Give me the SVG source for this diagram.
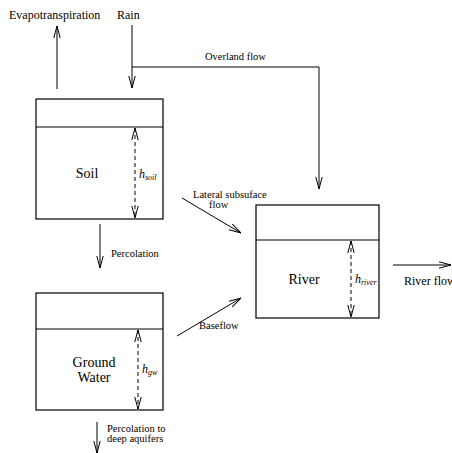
<svg xmlns="http://www.w3.org/2000/svg" width="452" height="453" viewBox="0 0 452 453">
<defs>
<marker id="ah" viewBox="0 0 12 8" refX="12" refY="4" markerWidth="12" markerHeight="8" markerUnits="userSpaceOnUse" orient="auto-start-reverse">
<path d="M0,0.8 L12,4 L0,7.2" fill="none" stroke="#000" stroke-width="1"/>
</marker>
</defs>
<style>
.box{fill:#fff;stroke:#000;stroke-width:1.2}
.ln{fill:none;stroke:#000;stroke-width:1}
.ar{fill:none;stroke:#000;stroke-width:1;marker-end:url(#ah)}
.da{fill:none;stroke:#000;stroke-width:1;stroke-dasharray:4 3;marker-start:url(#ah);marker-end:url(#ah)}
text{font-family:"Liberation Serif","Times New Roman",Times,serif;fill:#000}
.sm{font-size:10.5px}
.md{font-size:12px}
.lg{font-size:14px}
.it{font-style:italic;font-size:12px}
.sub{font-size:8px}
</style>
<rect width="452" height="453" fill="#fff"/>
<g id="soil">
<rect class="box" x="36" y="99" width="127" height="120"/>
<line class="ln" x1="36" y1="127" x2="163" y2="127"/>
<line class="da" x1="135" y1="128" x2="135" y2="218"/>
<text class="lg" x="87" y="178" text-anchor="middle">Soil</text>
<text class="it" x="139" y="178">h<tspan class="sub" dy="2">soil</tspan></text>
</g>
<g id="groundwater">
<rect class="box" x="36" y="293" width="127" height="117"/>
<line class="ln" x1="36" y1="329" x2="163" y2="329"/>
<line class="da" x1="138" y1="330" x2="138" y2="409"/>
<text class="lg" x="94" y="367" text-anchor="middle">Ground</text>
<text class="lg" x="94" y="382" text-anchor="middle">Water</text>
<text class="it" x="142" y="373">h<tspan class="sub" dy="2">gw</tspan></text>
</g>
<g id="river">
<rect class="box" x="256" y="205" width="123" height="113"/>
<line class="ln" x1="256" y1="240" x2="379" y2="240"/>
<line class="da" x1="351" y1="241" x2="351" y2="317"/>
<text class="lg" x="304" y="284" text-anchor="middle">River</text>
<text class="it" x="355" y="283">h<tspan class="sub" dy="2">river</tspan></text>
</g>
<g id="connectors">
<line class="ar" x1="57" y1="89" x2="57" y2="26"/>
<line class="ar" x1="132" y1="25" x2="132" y2="88"/>
<polyline class="ar" points="132,67 319,67 319,189"/>
<line class="ar" x1="182" y1="198" x2="241" y2="233"/>
<line class="ar" x1="177" y1="336" x2="241" y2="298"/>
<line class="ar" x1="100" y1="224" x2="100" y2="268"/>
<line class="ar" x1="97" y1="422" x2="97" y2="453"/>
<line class="ar" x1="393" y1="265" x2="451" y2="265"/>
</g>
<g id="labels">
<text class="md" x="9" y="19">Evapotranspiration</text>
<text class="md" x="117" y="19">Rain</text>
<text class="sm" x="205" y="60">Overland flow</text>
<text class="sm" x="193" y="198">Lateral subsuface</text>
<text class="sm" x="209" y="208">flow</text>
<text class="sm" x="111" y="257">Percolation</text>
<text class="sm" x="199" y="329">Baseflow</text>
<text class="sm" x="107" y="432">Percolation to</text>
<text class="sm" x="107" y="442">deep aquifers</text>
<text class="md" x="404" y="285">River flow</text>
</g>
</svg>
